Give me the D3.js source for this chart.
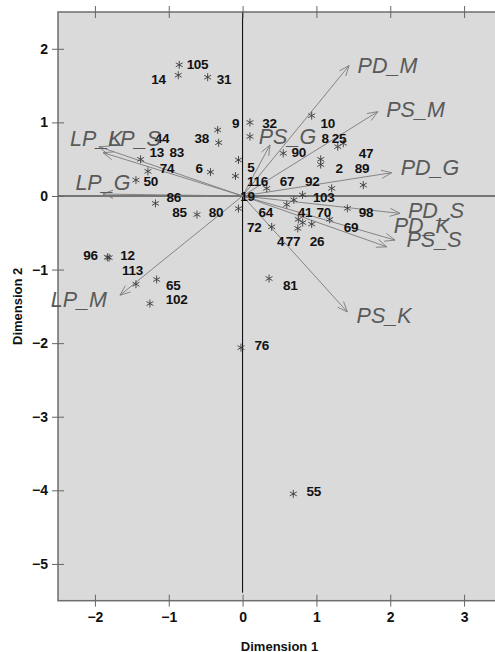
<!DOCTYPE html>
<html>
<head>
<meta charset="utf-8">
<script src="https://cdn.jsdelivr.net/npm/d3@7"></script>
<style>
  body { margin: 0; background: #fff; }
  svg { display: block; font-family: "Liberation Sans", Arial, sans-serif; }
  .tick text { font-size: 14px; font-weight: bold; fill: #111; }
  .tick line { stroke: #666; stroke-width: 1; }
  .ptLabel { font-size: 13.5px; font-weight: bold; fill: #111; text-anchor: middle; letter-spacing: -0.3px; }
  .varLabel { font-size: 21.5px; font-style: italic; fill: #595959; text-anchor: middle; }
  .axisTitle { font-size: 13px; font-weight: bold; fill: #111; text-anchor: middle; }
</style>
</head>
<body>
<script>
(function(){

//asterisk positions (observations)
var starX = [-0.858,-0.871,-0.473,-0.337,-0.324,0.100,0.100,-0.056,-0.096,-0.435,
             -1.381,-1.282,-1.444,-1.180,-0.618,-0.056,0.936,0.551,1.058,1.058,
             1.289,1.364,1.635,0.327,1.207,0.812,0.694,0.598,1.419,0.394,
             0.755,0.814,0.936,0.748,1.180,0.358,-1.831,-1.808,-1.444,-1.164,
             -1.255,-0.022,0.687];
var starY = [1.782,1.641,1.614,0.897,0.724,0.999,0.808,0.489,0.271,0.325,
             0.498,0.335,0.216,-0.101,-0.253,-0.171,1.092,0.580,0.498,0.427,
             0.670,0.716,0.148,0.103,0.103,0.015,-0.053,-0.117,-0.169,-0.419,
             -0.318,-0.362,-0.382,-0.441,-0.318,-1.122,-0.834,-0.838,-1.199,-1.135,
             -1.462,-2.061,-4.048];

//observation labels (placed where they sit in the picture)
var ptNames = ["105","14","31","9","44","38","13","83","74","6",
               "50","86","85","80","5","19","116","67","92","103",
               "64","41","70","98","72","69","4","77","26","81",
               "10","32","8","25","90","47","2","89","96","12",
               "113","65","102","76","55"];
var ptX = [-0.611,-1.140,-0.252,-0.096,-1.092,-0.554,-1.164,-0.893,-1.024,-0.588,
           -1.244,-0.932,-0.855,-0.360,0.111,0.066,0.202,0.602,0.944,1.099,
           0.314,0.846,1.100,1.672,0.159,1.469,0.514,0.683,1.008,0.646,
           1.153,0.364,1.117,1.306,0.760,1.672,1.309,1.618,-2.061,-1.560,
           -1.492,-0.939,-0.893,0.259,0.963];
var ptY = [1.727,1.523,1.523,0.920,0.716,0.716,0.525,0.525,0.316,0.316,
           0.135,-0.079,-0.283,-0.283,0.321,-0.065,0.135,0.135,0.135,-0.079,
           -0.283,-0.283,-0.283,-0.283,-0.487,-0.487,-0.682,-0.682,-0.682,-1.281,
           0.920,0.928,0.716,0.716,0.534,0.520,0.316,0.316,-0.872,-0.872,
           -1.077,-1.281,-1.462,-2.088,-4.081];

//variable arrows
var varNames = ["PD_M","PS_M","PD_G","PD_S","PD_K","PS_S","PS_K","PS_G","LP_K","LP_S","LP_G","LP_M"];
var varX = [1.442,1.831,2.020,2.133,2.065,1.953,1.419,0.371,-1.946,-1.888,-1.892,-1.661];
var varY = [1.772,1.146,0.316,-0.237,-0.600,-0.691,-1.576,0.693,0.670,0.588,0.026,-1.349];
var varLabelX = [1.962,2.343,2.539,2.621,2.427,2.593,1.916,0.608,-1.981,-1.462,-1.892,-2.217];
var varLabelY = [1.673,1.078,0.284,-0.305,-0.509,-0.691,-1.720,0.702,0.683,0.683,0.080,-1.508];

var xTicks = [-2,-1,0,1,2,3];
var yTicks = [2,1,0,-1,-2,-3,-4,-5];

window.onload = setChart();

function setChart(){
    var width = 495, height = 652;
    var left = 58, right = 501, top = 12, bottom = 600.7;

    var svg = d3.select("body").append("svg")
        .attr("width", width)
        .attr("height", height);

    var x = d3.scaleLinear().domain([-2.5, 3.5]).range([left, right]);
    var y = d3.scaleLinear().domain([-5.5, 2.5]).range([bottom, top]);
    var fmt = d3.format("d");

    //plot background
    svg.append("rect")
        .attr("x", left).attr("y", top)
        .attr("width", right - left).attr("height", bottom - top)
        .attr("fill", "#dadada");

    //zero lines
    svg.append("line")
        .attr("x1", left).attr("x2", right)
        .attr("y1", y(0)).attr("y2", y(0))
        .attr("stroke", "#555").attr("stroke-width", 1.5);
    svg.append("line")
        .attr("x1", x(0)).attr("x2", x(0))
        .attr("y1", top).attr("y2", bottom - 8)
        .attr("stroke", "#000").attr("stroke-width", 1);

    //frame
    svg.append("rect")
        .attr("x", left).attr("y", top)
        .attr("width", right - left).attr("height", bottom - top)
        .attr("fill", "none")
        .attr("stroke", "#6e6e6e").attr("stroke-width", 1.5);

    //axes, ticks crossing the frame
    var xAxis = svg.append("g")
        .attr("transform", "translate(0," + (bottom - 6) + ")")
        .call(d3.axisBottom(x).tickValues(xTicks).tickSize(12).tickPadding(5).tickFormat(fmt));
    xAxis.select(".domain").remove();

    var topAxis = svg.append("g")
        .attr("transform", "translate(0," + (top + 6) + ")")
        .call(d3.axisTop(x).tickValues(xTicks).tickSize(12).tickFormat(""));
    topAxis.select(".domain").remove();

    var yAxis = svg.append("g")
        .attr("transform", "translate(" + (left + 6) + ",0)")
        .call(d3.axisLeft(y).tickValues(yTicks).tickSize(12).tickPadding(4).tickFormat(fmt));
    yAxis.select(".domain").remove();

    //arrows
    var arrows = svg.append("g").attr("class", "arrows");
    varNames.forEach(function(name, i){
        var x0 = x(0), y0 = y(0), x1 = x(varX[i]), y1 = y(varY[i]);
        var ang = Math.atan2(y1 - y0, x1 - x0);
        var len = 11, spread = 0.38;
        arrows.append("line")
            .attr("x1", x0).attr("y1", y0).attr("x2", x1).attr("y2", y1)
            .attr("stroke", "#7a7a7a").attr("stroke-width", 0.9);
        arrows.append("path")
            .attr("d", "M" + (x1 - len * Math.cos(ang - spread)) + "," + (y1 - len * Math.sin(ang - spread)) +
                       "L" + x1 + "," + y1 +
                       "L" + (x1 - len * Math.cos(ang + spread)) + "," + (y1 - len * Math.sin(ang + spread)))
            .attr("fill", "none")
            .attr("stroke", "#7a7a7a").attr("stroke-width", 0.9);
    });

    //asterisks
    var r = 4;
    svg.selectAll(".star")
        .data(starX)
        .enter()
        .append("path")
        .attr("class", "star")
        .attr("d", function(d, i){
            var cx = x(d), cy = y(starY[i]), p = "";
            [90, 30, 150].forEach(function(a){
                var rad = a * Math.PI / 180, dx = r * Math.cos(rad), dy = r * Math.sin(rad);
                p += "M" + (cx - dx) + "," + (cy - dy) + "L" + (cx + dx) + "," + (cy + dy);
            });
            return p;
        })
        .attr("stroke", "#3a3a3a").attr("stroke-width", 0.9).attr("fill", "none");

    //observation labels
    svg.selectAll(".ptLabel")
        .data(ptNames)
        .enter()
        .append("text")
        .attr("class", "ptLabel")
        .attr("x", function(d, i){ return x(ptX[i]); })
        .attr("y", function(d, i){ return y(ptY[i]); })
        .text(function(d){ return d; });

    //variable labels
    svg.selectAll(".varLabel")
        .data(varNames)
        .enter()
        .append("text")
        .attr("class", "varLabel")
        .attr("x", function(d, i){ return x(varLabelX[i]); })
        .attr("y", function(d, i){ return y(varLabelY[i]); })
        .text(function(d){ return d; });

    //axis titles
    svg.append("text")
        .attr("class", "axisTitle")
        .attr("x", (left + right) / 2).attr("y", 650.5)
        .text("Dimension 1");
    svg.append("text")
        .attr("class", "axisTitle")
        .attr("transform", "translate(22," + ((top + bottom) / 2) + ") rotate(-90)")
        .text("Dimension 2");
};

})();
</script>
</body>
</html>
